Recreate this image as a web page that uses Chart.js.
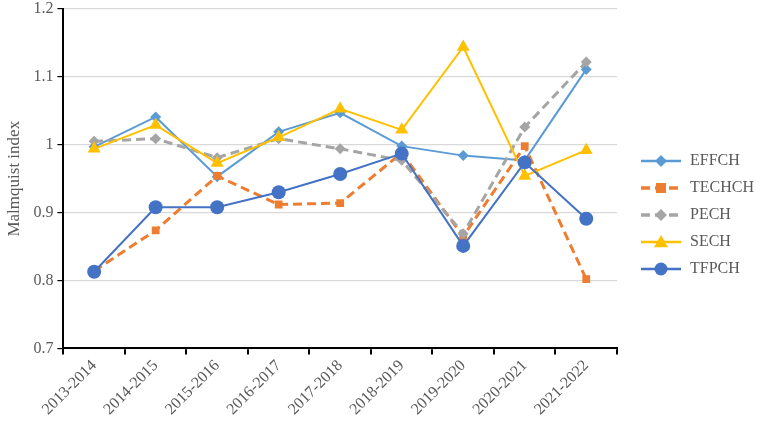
<!DOCTYPE html>
<html lang="en">
<head>
  <meta charset="UTF-8" />
  <title>Malmquist index</title>
  <script src="https://cdn.jsdelivr.net/npm/chart.js"></script>
  <style>
    body { margin: 0; background: #ffffff; }
    .wrap { width: 764px; height: 430px; position: relative; }
  </style>
</head>
<body>
  <div class="wrap"><canvas id="grafik"></canvas></div>

  <script>
    const periods = ['2013-2014', '2014-2015', '2015-2016', '2016-2017', '2017-2018',
                     '2018-2019', '2019-2020', '2020-2021', '2021-2022'];
    const effch  = [0.997, 1.041, 0.953, 1.019, 1.047, 0.998, 0.984, 0.977, 1.111];
    const techch = [0.814, 0.874, 0.954, 0.912, 0.914, 0.988, 0.865, 0.998, 0.802];
    const pech   = [1.005, 1.009, 0.981, 1.009, 0.994, 0.977, 0.869, 1.026, 1.122];
    const sech   = [0.994, 1.029, 0.973, 1.011, 1.053, 1.022, 1.144, 0.954, 0.992];
    const tfpch  = [0.813, 0.908, 0.908, 0.930, 0.957, 0.987, 0.851, 0.974, 0.891];
    const yTicks = [0.7, 0.8, 0.9, 1, 1.1, 1.2];

    const FONT = "'Liberation Serif', 'Times New Roman', serif";
    const TXT = '#595959';

    // line+marker swatch for the legend (left part kept empty as a gap)
    const GAP = 12;
    function swatch(color, dash, width, style, r) {
      const c = document.createElement('canvas');
      c.width = GAP + 42; c.height = 18;
      const g = c.getContext('2d');
      const cx = GAP + 21;
      g.strokeStyle = color; g.lineWidth = width;
      g.setLineDash(dash);
      g.beginPath(); g.moveTo(GAP + 1, 9); g.lineTo(GAP + 41, 9); g.stroke();
      g.setLineDash([]);
      g.fillStyle = color;
      g.beginPath();
      if (style === 'diamond') {
        g.moveTo(cx, 9 - r); g.lineTo(cx + r, 9); g.lineTo(cx, 9 + r); g.lineTo(cx - r, 9);
      } else if (style === 'square') {
        g.rect(cx - r, 9 - r, 2 * r, 2 * r);
      } else if (style === 'triangle') {
        g.moveTo(cx, 9 - r); g.lineTo(cx + r, 9 + r * 0.75); g.lineTo(cx - r, 9 + r * 0.75);
      } else {
        g.arc(cx, 9, r, 0, Math.PI * 2);
      }
      g.closePath(); g.fill();
      return c;
    }

    const series = [
      { label: 'EFFCH',  data: effch,  color: '#5B9BD5', dash: [],     w: 2, pt: 'rectRot',  r: 5.5, sw: 'diamond',  sr: 6 },
      { label: 'TECHCH', data: techch, color: '#ED7D31', dash: [9, 5], w: 3, pt: 'rect',     r: 5.5, sw: 'square',   sr: 5 },
      { label: 'PECH',   data: pech,   color: '#A5A5A5', dash: [9, 5], w: 3, pt: 'rectRot',  r: 5.5, sw: 'diamond',  sr: 6 },
      { label: 'SECH',   data: sech,   color: '#FFC000', dash: [],     w: 2, pt: 'triangle', r: 7.5, sw: 'triangle', sr: 7 },
      { label: 'TFPCH',  data: tfpch,  color: '#4472C4', dash: [],     w: 2, pt: 'circle',   r: 7,   sw: 'circle',   sr: 6.5 }
    ];

    const datasets = series.map((s, i) => ({
      label: s.label,
      data: s.data,
      borderColor: s.color,
      backgroundColor: s.color,
      borderWidth: s.w,
      borderDash: s.dash,
      pointStyle: s.pt,
      pointRadius: s.r,
      pointHoverRadius: s.r,
      pointBorderWidth: 0,
      tension: 0,
      fill: false,
      order: series.length - i
    }));

    const ctx = document.getElementById('grafik').getContext('2d');
    const chart = new Chart(ctx, {
      type: 'line',
      data: { labels: periods, datasets: datasets },
      options: {
        responsive: true,
        maintainAspectRatio: false,
        animation: false,
        layout: { padding: { top: 9, right: 0, bottom: 9, left: 0 } },
        scales: {
          x: {
            offset: true,
            grid: { offset: true, drawOnChartArea: false, color: '#000', tickLength: 6, lineWidth: 2 },
            border: { color: '#000', width: 2 },
            ticks: { color: TXT, font: { family: FONT, size: 16 }, minRotation: 45, maxRotation: 45, padding: 2 }
          },
          y: {
            min: 0.7,
            max: 1.2,
            afterBuildTicks: axis => { axis.ticks = yTicks.map(v => ({ value: v })); },
            title: { display: true, text: 'Malmquist index', color: TXT, font: { family: FONT, size: 17 }, padding: { bottom: 5 } },
            grid: { color: '#d9d9d9', tickColor: '#000', tickLength: 6, lineWidth: 1.2 },
            border: { color: '#000', width: 2 },
            ticks: { color: TXT, font: { family: FONT, size: 16, lineHeight: 0.6 }, padding: 4, callback: v => String(v) }
          }
        },
        plugins: {
          tooltip: { enabled: false },
          legend: {
            position: 'right',
            labels: {
              color: TXT,
              font: { family: FONT, size: 16 },
              usePointStyle: true,
              pointStyleWidth: GAP + 42,
              padding: 11,
              generateLabels: c => series.map((s, i) => ({
                text: s.label,
                fontColor: TXT,
                pointStyle: swatch(s.color, s.dash, s.w + 0.5, s.sw, s.sr),
                strokeStyle: s.color,
                fillStyle: s.color,
                lineWidth: 0,
                hidden: false,
                datasetIndex: i
              }))
            }
          }
        }
      }
    });
  </script>
</body>
</html>
